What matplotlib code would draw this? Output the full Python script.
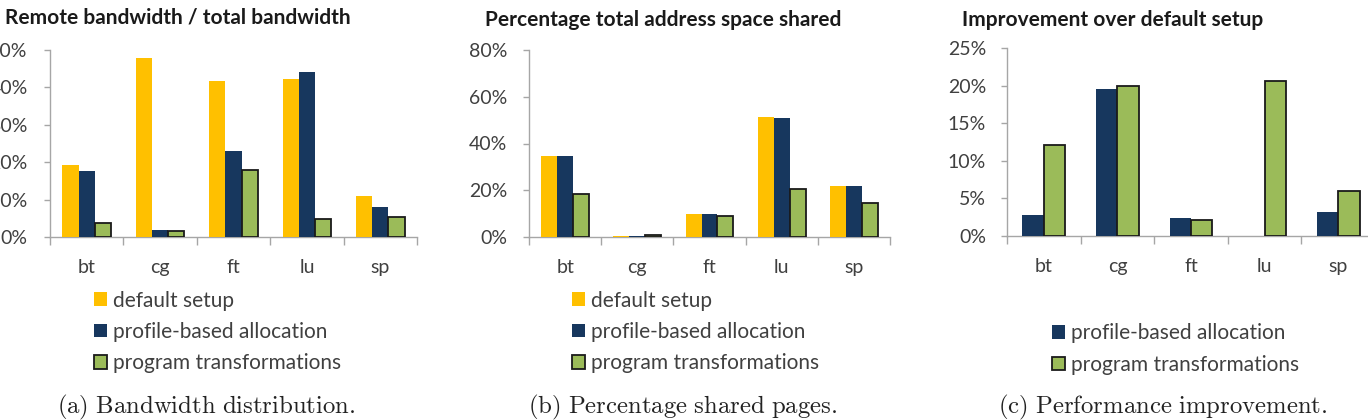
import matplotlib

matplotlib.use("Agg")

import matplotlib.pyplot as plt
from matplotlib.patches import Patch
from matplotlib.ticker import FixedLocator, FuncFormatter, MultipleLocator

W, H, DPI = 1368, 420, 100

benchmarks = ["bt", "cg", "ft", "lu", "sp"]

# (a) remote bandwidth / total bandwidth, %
bw_default = [19.3, 47.8, 41.8, 42.2, 11.0]
bw_profile = [17.6, 1.8, 23.0, 44.2, 8.0]
bw_program = [3.7, 1.5, 17.9, 4.7, 5.4]

# (b) percentage of total address space shared, %
shared_default = [34.7, 0.3, 9.7, 51.3, 21.9]
shared_profile = [34.7, 0.5, 9.7, 50.7, 21.9]
shared_program = [18.5, 1.0, 8.8, 20.5, 14.5]

# (c) improvement over default setup, %
improve_profile = [2.8, 19.6, 2.45, -0.1, 3.2]
improve_program = [12.1, 20.0, 2.1, 20.6, 6.05]

YELLOW = "#FFC000"
NAVY = "#17375E"
GREEN = "#9BBB59"
EDGE = "#1A1A1A"
AXIS_GRAY = "#A6A6A6"
TEXT = "#404040"
FONT = "Lato"
TICK_SIZE = 14
LEGEND_SIZE = 15

plt.rcParams["font.family"] = [FONT, "DejaVu Sans"]
plt.rcParams["mathtext.fontset"] = "cm"


def px_axes(fig, left, top, right, bottom):
    return fig.add_axes([left / W, 1 - bottom / H, (right - left) / W, (bottom - top) / H])


def style_axes(ax, ymax, ystep, ypad):
    ax.set_xlim(-0.5, len(benchmarks) - 0.5)
    ax.set_ylim(0, ymax)
    for side in ("top", "right"):
        ax.spines[side].set_visible(False)
    for side in ("left", "bottom"):
        ax.spines[side].set_color(AXIS_GRAY)
        ax.spines[side].set_linewidth(1.0)

    ax.yaxis.set_major_locator(MultipleLocator(ystep))
    ax.yaxis.set_major_formatter(FuncFormatter(lambda v, _: f"{v:.0f}%"))
    ax.tick_params(axis="y", length=4, width=1.0, color=AXIS_GRAY, pad=ypad,
                   labelsize=TICK_SIZE, labelcolor=TEXT)

    ax.xaxis.set_major_locator(FixedLocator([i - 0.5 for i in range(len(benchmarks) + 1)]))
    ax.xaxis.set_minor_locator(FixedLocator(range(len(benchmarks))))
    ax.set_xticklabels([], minor=False)
    ax.set_xticklabels(benchmarks, minor=True)
    ax.tick_params(axis="x", which="major", length=6, width=1.0, color=AXIS_GRAY)
    ax.tick_params(axis="x", which="minor", length=0, pad=16, labelsize=TICK_SIZE,
                   labelcolor=TEXT)
    ax.set_facecolor("none")


def draw_group(ax, series, width):
    n = len(series)
    x = list(range(len(benchmarks)))
    for k, (values, color) in enumerate(series):
        offset = (k - (n - 1) / 2) * width
        is_green = color == GREEN
        ax.bar(
            [xi + offset for xi in x],
            values,
            width=width,
            color=color,
            edgecolor=EDGE if is_green else color,
            linewidth=1.3 if is_green else 0,
            zorder=3,
        )


def add_legend(fig, entries, x, y_center):
    handles = [
        Patch(facecolor=c, edgecolor=EDGE if c == GREEN else c, linewidth=1.3 if c == GREEN else 0)
        for _, c in entries
    ]
    fig.legend(
        handles,
        [label for label, _ in entries],
        loc="center left",
        bbox_to_anchor=(x / W, 1 - y_center / H),
        frameon=False,
        fontsize=LEGEND_SIZE,
        handlelength=0.62,
        handleheight=0.62,
        handletextpad=0.3,
        labelspacing=0.55,
        borderpad=0,
        borderaxespad=0,
        labelcolor=TEXT,
    )


fig = plt.figure(figsize=(W / DPI, H / DPI), dpi=DPI)
fig.patch.set_facecolor("white")

# (a)
ax_a = px_axes(fig, 50, 50, 417, 237)
style_axes(ax_a, 50, 10, 12)
draw_group(ax_a, [(bw_default, YELLOW), (bw_profile, NAVY), (bw_program, GREEN)], 0.22)

# (b)
ax_b = px_axes(fig, 529, 50, 890, 237)
style_axes(ax_b, 80, 20, 11.5)
draw_group(ax_b, [(shared_default, YELLOW), (shared_profile, NAVY), (shared_program, GREEN)], 0.22)

# (c)
ax_c = px_axes(fig, 1007, 48, 1375, 236)
style_axes(ax_c, 25, 5, 11)
draw_group(ax_c, [(improve_profile, NAVY), (improve_program, GREEN)], 0.29)

title_kw = dict(fontsize=15, fontweight="bold", color="#1A1A1A", ha="left", va="center")
fig.text(5 / W, 1 - 18 / H, "Remote bandwidth / total bandwidth", **title_kw)
fig.text(485 / W, 1 - 20 / H, "Percentage total address space shared", **title_kw)
fig.text(962 / W, 1 - 20 / H, "Improvement over default setup", **title_kw)

add_legend(fig, [("default setup", YELLOW), ("profile-based allocation", NAVY),
                 ("program transformations", GREEN)], 94, 332)
add_legend(fig, [("default setup", YELLOW), ("profile-based allocation", NAVY),
                 ("program transformations", GREEN)], 572, 332)
add_legend(fig, [("profile-based allocation", NAVY), ("program transformations", GREEN)], 1052, 349)

cap_kw = dict(fontsize=17.8, color="#222222", ha="center", va="center")
fig.text(206 / W, 1 - 407 / H, r"$\mathrm{(a)\ Bandwidth\ distribution.}$", **cap_kw)
fig.text(683 / W, 1 - 407 / H, r"$\mathrm{(b)\ Percentage\ shared\ pages.}$", **cap_kw)
fig.text(1163 / W, 1 - 407 / H, r"$\mathrm{(c)\ Performance\ improvement.}$", **cap_kw)

fig.savefig("out.png", dpi=DPI, facecolor=fig.get_facecolor())
